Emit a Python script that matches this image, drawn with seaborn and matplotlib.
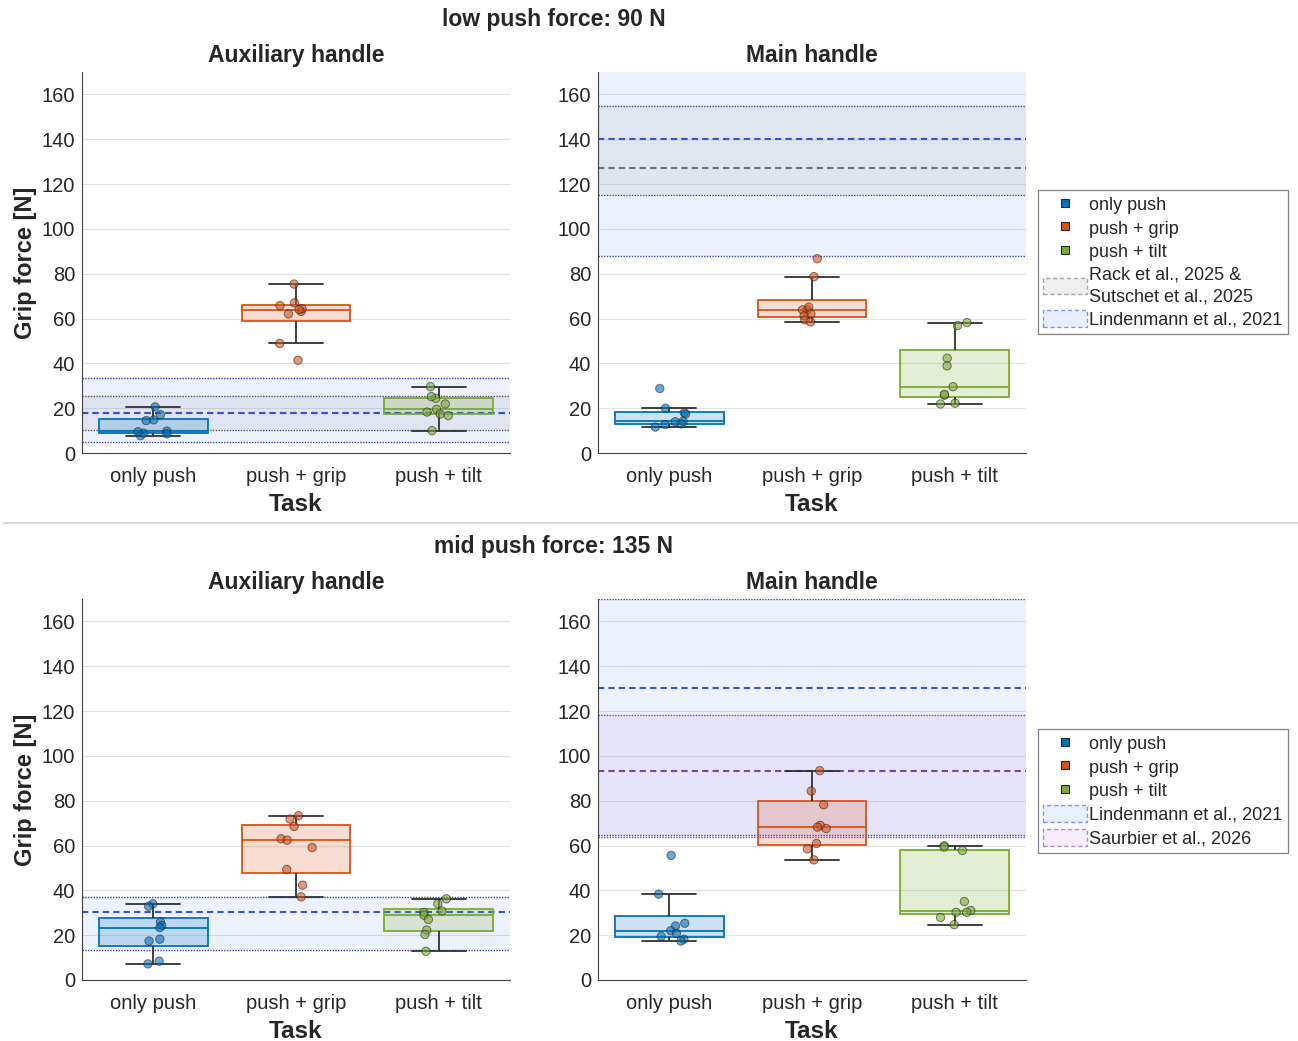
import numpy as np
import pandas as pd
import matplotlib
matplotlib.use("Agg")
import matplotlib.pyplot as plt
from matplotlib.lines import Line2D
from matplotlib.patches import Patch
from matplotlib.colors import to_rgba
import seaborn as sns

# ---------------- data ----------------
tasks = ["only push", "push + grip", "push + tilt"]
task_colors = ["#0072BD", "#D95319", "#77AC30"]

# low push force: 90 N -- auxiliary handle
aux_low_only_push = [20.6, 17.1, 14.5, 14.8, 9.8, 8.6, 7.7, 8.9, 9.5]
aux_low_push_grip = [75.4, 65.8, 67.0, 63.2, 62.1, 64.4, 64.0, 48.9, 41.4]
aux_low_push_tilt = [29.6, 24.4, 25.2, 21.9, 19.5, 18.3, 17.4, 16.7, 10.0]
# low push force: 90 N -- main handle
main_low_only_push = [28.8, 20.0, 18.0, 17.4, 14.0, 14.2, 13.0, 12.7, 11.6]
main_low_push_grip = [86.7, 78.7, 63.9, 63.9, 65.1, 62.1, 61.2, 59.4, 58.5]
main_low_push_tilt = [58.2, 56.9, 42.3, 38.9, 29.6, 25.8, 26.2, 22.2, 21.9]
# mid push force: 135 N -- auxiliary handle
aux_mid_only_push = [34.0, 32.9, 25.9, 24.3, 23.4, 18.2, 17.4, 8.4, 7.2]
aux_mid_push_grip = [73.3, 71.8, 68.5, 63.0, 62.4, 59.1, 49.3, 42.3, 37.1]
aux_mid_push_tilt = [36.2, 34.0, 30.8, 30.1, 28.9, 27.0, 22.3, 20.3, 12.8]
# mid push force: 135 N -- main handle
main_mid_only_push = [55.6, 38.3, 25.3, 24.1, 22.0, 20.8, 19.5, 18.2, 17.4]
main_mid_push_grip = [93.4, 84.3, 78.2, 69.0, 68.2, 67.6, 60.9, 58.5, 53.6]
main_mid_push_tilt = [59.9, 59.3, 57.8, 35.0, 31.0, 30.2, 30.2, 27.9, 24.7]

# literature reference ranges: [lower, mean, upper]
rack_low_aux = [10.1, 17.7, 25.3]
lind_low_aux = [5.1, 17.7, 33.4]
rack_low_main = [115.0, 127.0, 155.0]
lind_low_main = [88.0, 140.0, 192.0]
lind_mid_aux = [13.3, 30.4, 37.2]
lind_mid_main = [64.8, 130.5, 170.0]
saur_mid_main = [64.0, 93.4, 118.4]

y_ticks = [0, 20, 40, 60, 80, 100, 120, 140, 160]

rack_label = "Rack et al., 2025 &\nSutschet et al., 2025"
lind_label = "Lindenmann et al., 2021"
saur_label = "Saurbier et al., 2026"

# ---------------- styles ----------------
band_styles = {
    "rack": dict(fill="#808080", falpha=0.11, dot="#555555", dash="#6f6f6f"),
    "lind": dict(fill="#3366EE", falpha=0.09, dot="#3344CC", dash="#3355C8"),
    "saur": dict(fill="#A050DC", falpha=0.08, dot="#8040B0", dash="#8040B0"),
}

sns.set_style("white")
plt.rcParams["font.family"] = ["Liberation Sans", "DejaVu Sans"]
plt.rcParams["text.color"] = "#262626"
np.random.seed(3)

fig = plt.figure(figsize=(12.98, 10.41), dpi=100)
W = 0.3297
H = 0.366
ax_tl = fig.add_axes([0.0632, 0.5648, W, H])
ax_tr = fig.add_axes([0.4607, 0.5648, W, H])
ax_bl = fig.add_axes([0.0632, 0.0586, W, H])
ax_br = fig.add_axes([0.4607, 0.0586, W, H])


def summary_frame(groups):
    """MATLAB-style box statistics (hazen quantiles, 1.5 IQR whiskers)."""
    rows = []
    for task, vals in zip(tasks, groups):
        v = np.asarray(vals, dtype=float)
        q1, med, q3 = np.quantile(v, [0.25, 0.5, 0.75], method="hazen")
        iqr = q3 - q1
        lo = v[v >= q1 - 1.5 * iqr].min()
        hi = v[v <= q3 + 1.5 * iqr].max()
        for s in (lo, q1, med, q3, hi):
            rows.append({"task": task, "force": s})
    return pd.DataFrame(rows)


def draw_panel(ax, groups, bands, title, ylabel):
    ax.set_axisbelow(True)
    ax.grid(True, color="#E3E3E3", lw=0.8)
    # literature bands
    for key, (lo, mean, hi) in bands:
        st = band_styles[key]
        ax.axhspan(lo, hi, color=st["fill"], alpha=st["falpha"], lw=0, zorder=1)
        ax.axhline(lo, color=st["dot"], lw=1.0, ls=(0, (1, 1)), zorder=1.2)
        ax.axhline(hi, color=st["dot"], lw=1.0, ls=(0, (1, 1)), zorder=1.2)
        ax.axhline(mean, color=st["dash"], lw=1.5, ls=(0, (3, 2)), zorder=1.3)

    summ = summary_frame(groups)
    for task, col in zip(tasks, task_colors):
        sub = summ[summ["task"] == task]
        sns.boxplot(data=sub, x="task", y="force", order=tasks, ax=ax,
                    width=0.76, whis=1.5, showfliers=False, linewidth=1.3,
                    boxprops=dict(facecolor=to_rgba(col, 0.2), edgecolor=col,
                                  zorder=2),
                    medianprops=dict(color=col, lw=1.3, zorder=2.1),
                    whiskerprops=dict(color="#303030", lw=1.3, zorder=2),
                    capprops=dict(color="#303030", lw=1.3, zorder=2))

    raw = pd.DataFrame({
        "task": np.repeat(tasks, [len(g) for g in groups]),
        "force": np.concatenate([np.asarray(g, float) for g in groups]),
    })
    sns.stripplot(data=raw, x="task", y="force", hue="task", order=tasks,
                  hue_order=tasks, palette=task_colors, ax=ax, jitter=0.12,
                  size=6, alpha=0.6, edgecolor="#262626", linewidth=0.7,
                  legend=False, zorder=3)

    ax.set_xlim(-0.5, 2.5)
    ax.set_ylim(0, 170)
    ax.set_yticks(y_ticks)
    ax.set_title(title, fontsize=16.5, fontweight="bold", pad=7)
    ax.set_xlabel("Task", fontsize=17.5, fontweight="bold", labelpad=5)
    if ylabel:
        ax.set_ylabel("Grip force [N]", fontsize=17, fontweight="bold",
                      labelpad=3)
    else:
        ax.set_ylabel("")
    ax.tick_params(direction="in", length=4, width=0.6, color="#404040",
                   labelcolor="#262626", labelsize=14.5)
    ax.tick_params(axis="x", pad=10)
    ax.tick_params(axis="y", pad=5)
    for s in ("top", "right"):
        ax.spines[s].set_visible(False)
    for s in ("left", "bottom"):
        ax.spines[s].set_color("#404040")
        ax.spines[s].set_linewidth(0.8)


draw_panel(ax_tl, [aux_low_only_push, aux_low_push_grip, aux_low_push_tilt],
           [("rack", rack_low_aux), ("lind", lind_low_aux)],
           "Auxiliary handle", True)
draw_panel(ax_tr, [main_low_only_push, main_low_push_grip, main_low_push_tilt],
           [("lind", lind_low_main), ("rack", rack_low_main)],
           "Main handle", False)
draw_panel(ax_bl, [aux_mid_only_push, aux_mid_push_grip, aux_mid_push_tilt],
           [("lind", lind_mid_aux)],
           "Auxiliary handle", True)
draw_panel(ax_br, [main_mid_only_push, main_mid_push_grip, main_mid_push_tilt],
           [("lind", lind_mid_main), ("saur", saur_mid_main)],
           "Main handle", False)

# super titles and separator
fig.text(0.4265, 0.981, "low push force: 90 N", ha="center", va="center",
         fontsize=16.5, fontweight="bold")
fig.text(0.4265, 0.4755, "mid push force: 135 N", ha="center", va="center",
         fontsize=16.5, fontweight="bold")
fig.add_artist(Line2D([0.003, 1.0], [0.498, 0.498], transform=fig.transFigure,
                      color="#DCDCDC", lw=1.5))


def task_handles():
    return [Line2D([], [], marker="s", ls="none", markersize=6,
                   markerfacecolor=c, markeredgecolor="#262626",
                   markeredgewidth=0.8) for c in task_colors]


def band_handle(key):
    st = band_styles[key]
    return Patch(facecolor=to_rgba(st["fill"], st["falpha"] + 0.02),
                 edgecolor=to_rgba(st["dash"], 0.6), linestyle=(0, (3, 2)),
                 lw=1.0)


leg_kw = dict(loc="upper left", frameon=True, fancybox=False,
              edgecolor="#808080", fontsize=13, handlelength=2.4,
              handleheight=1.05, handletextpad=0.15, labelspacing=0.28,
              borderpad=0.3, borderaxespad=0.0, framealpha=1)

leg1 = fig.legend(task_handles() + [band_handle("rack"), band_handle("lind")],
                  tasks + [rack_label, lind_label],
                  bbox_to_anchor=(0.7997, 0.8175), **leg_kw)
leg1.get_frame().set_linewidth(0.9)
leg1.get_texts()[3].set_linespacing(1.4)
leg2 = fig.legend(task_handles() + [band_handle("lind"), band_handle("saur")],
                  tasks + [lind_label, saur_label],
                  bbox_to_anchor=(0.7997, 0.2997), **leg_kw)
leg2.get_frame().set_linewidth(0.9)

fig.savefig("out.png", dpi=100)
